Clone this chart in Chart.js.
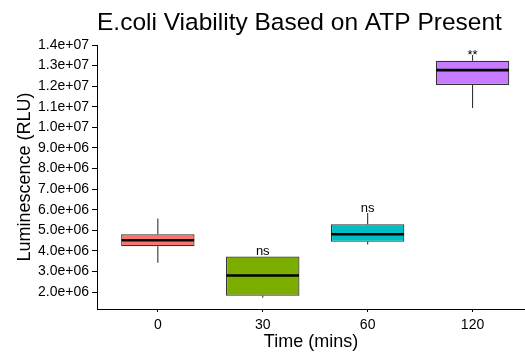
<!DOCTYPE html>
<html>
<head>
<meta charset="utf-8">
<script src="https://cdn.jsdelivr.net/npm/chart.js@4/dist/chart.umd.min.js"></script>
<style>
  html, body { margin: 0; padding: 0; background: #fff; }
  #wrap { width: 525px; height: 359px; }
</style>
</head>
<body>
<div id="wrap"><canvas id="box-chart" width="525" height="359"></canvas></div>
<script>
// ── Data ──────────────────────────────────────────────────────
const categories   = ['0', '30', '60', '120'];
const whiskerLow   = [3.42e6, 1.73e6, 4.31e6, 10.94e6];
const q1           = [4.23e6, 1.82e6, 4.44e6, 12.06e6];
const medians      = [4.52e6, 2.81e6, 4.81e6, 12.78e6];
const q3           = [4.81e6, 3.73e6, 5.29e6, 13.23e6];
const whiskerHigh  = [5.57e6, 3.73e6, 5.84e6, 13.52e6];
const sigLabels    = ['', 'ns', 'ns', '**'];
const sigLabelY    = [null, 3.99e6, 6.07e6, 13.66e6];
const yTickValues  = [2e6, 3e6, 4e6, 5e6, 6e6, 7e6, 8e6, 9e6, 10e6, 11e6, 12e6, 13e6, 14e6];

const BOX_FILLS = ['#F8766D', '#7CAE00', '#00BFC4', '#C77CFF'];
const LINE_CLR  = '#333333';
const FONT      = '"Liberation Sans", Arial, Helvetica, sans-serif';

const fmtSci = v => {
    const e = Math.floor(Math.log10(v) + 1e-9);
    const m = (v / Math.pow(10, e)).toFixed(1);
    return m + 'e+' + String(e).padStart(2, '0');
};

// ── Whiskers, medians, labels, title ─────────────────────────
const boxExtras = {
    id: 'boxExtras',
    afterDatasetsDraw(chart) {
        const { ctx, scales: { x, y }, chartArea } = chart;
        const meta = chart.getDatasetMeta(0);
        ctx.save();
        categories.forEach((c, i) => {
            const bar = meta.data[i];
            const cx  = x.getPixelForValue(i);
            const hw  = bar.width / 2;

            // whiskers
            ctx.strokeStyle = LINE_CLR;
            ctx.lineWidth = 1.1;
            ctx.beginPath();
            ctx.moveTo(cx, y.getPixelForValue(whiskerHigh[i]));
            ctx.lineTo(cx, y.getPixelForValue(q3[i]));
            ctx.moveTo(cx, y.getPixelForValue(q1[i]));
            ctx.lineTo(cx, y.getPixelForValue(whiskerLow[i]));
            ctx.stroke();

            // median
            ctx.strokeStyle = '#000';
            ctx.lineWidth = 2.6;
            ctx.beginPath();
            const my = y.getPixelForValue(medians[i]);
            ctx.moveTo(cx - hw + 0.5, my);
            ctx.lineTo(cx + hw - 0.5, my);
            ctx.stroke();

            // significance label, ink centred on its value
            if (sigLabels[i]) {
                ctx.font = '13px ' + FONT;
                ctx.fillStyle = '#000';
                ctx.textAlign = 'center';
                ctx.textBaseline = 'alphabetic';
                const m  = ctx.measureText(sigLabels[i]);
                const ty = y.getPixelForValue(sigLabelY[i]);
                ctx.fillText(sigLabels[i], cx, ty + (m.actualBoundingBoxAscent - m.actualBoundingBoxDescent) / 2);
            }
        });

        // title, left-aligned with the panel
        ctx.font = '24.5px ' + FONT;
        ctx.fillStyle = '#000';
        ctx.textAlign = 'left';
        ctx.textBaseline = 'alphabetic';
        ctx.fillText('E.coli Viability Based on ATP Present', chartArea.left, 30);
        ctx.restore();
    },
};

// ── Chart ────────────────────────────────────────────────────
const boxChart = new Chart(document.getElementById('box-chart'), {
    type: 'bar',
    data: {
        datasets: [{
            data: categories.map((c, i) => ({ x: i, y: [q1[i], q3[i]] })),
            backgroundColor: BOX_FILLS,
            borderColor: LINE_CLR,
            borderWidth: 1.2,
            borderSkipped: false,
            barPercentage: 0.7,
            categoryPercentage: 1,
        }],
    },
    options: {
        responsive: false, animation: false, devicePixelRatio: 1,
        layout: { padding: { top: 45, right: 0, bottom: 0, left: 0 } },
        plugins: {
            legend: { display: false },
            tooltip: { enabled: false },
        },
        scales: {
            x: {
                type: 'linear', min: -0.58, max: 3.5, offset: false,
                afterBuildTicks: s => { s.ticks = categories.map((c, i) => ({ value: i })); },
                afterFit: s => { s.height = 50; },
                ticks: {
                    callback: v => categories[v],
                    color: '#000', padding: 5, maxRotation: 0,
                    font: { family: FONT, size: 14 },
                },
                grid: { offset: false, drawOnChartArea: false, drawTicks: true, tickLength: 3, color: '#000' },
                border: { display: true, color: '#000', width: 1 },
                title: {
                    display: true, text: 'Time (mins)', color: '#000',
                    font: { family: FONT, size: 18 }, padding: { top: 0, bottom: 6 },
                },
            },
            y: {
                min: 1.18e6, max: 14e6,
                afterBuildTicks: s => { s.ticks = yTickValues.map(v => ({ value: v })); },
                afterFit: s => { s.width = 97; },
                ticks: {
                    callback: v => fmtSci(v),
                    color: '#000', padding: 3,
                    font: { family: FONT, size: 14 },
                },
                grid: { drawOnChartArea: false, drawTicks: true, tickLength: 5, color: '#000' },
                border: { display: true, color: '#000', width: 1 },
                title: {
                    display: true, text: 'Luminescence (RLU)', color: '#000',
                    font: { family: FONT, size: 18 }, padding: { top: 14, bottom: 0 },
                },
            },
        },
    },
    plugins: [boxExtras],
});
</script>
</body>
</html>
